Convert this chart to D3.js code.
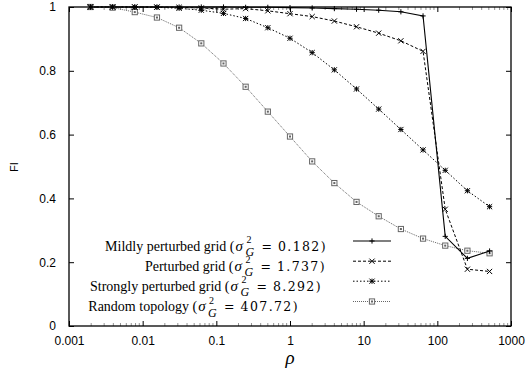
<!DOCTYPE html>
<html>
<head>
<meta charset="utf-8">
<script src="https://cdn.jsdelivr.net/npm/d3@7"></script>
<style>
    body { margin: 0; background: #fff; }
    .axis text { font-family: "Liberation Sans", Arial, sans-serif; font-size: 12px; fill: #000; }
    .legend text { font-family: "Liberation Serif", "Times New Roman", serif; font-size: 14px; fill: #000; }
</style>
</head>
<body>
<div id="chart"></div>
<script>
// rho values (2^-9 ... 2^9)
let rhoValues = [0.001953125, 0.00390625, 0.0078125, 0.015625, 0.03125, 0.0625, 0.125, 0.25, 0.5,
    1, 2, 4, 8, 16, 32, 64, 128, 256, 512];

let mildlyValues = [1.0, 1.0, 1.0, 1.0, 1.0, 1.0, 1.0, 0.999, 0.999,
    0.998, 0.997, 0.995, 0.993, 0.99, 0.985, 0.972, 0.281, 0.212, 0.235];
let perturbedValues = [1.0, 1.0, 1.0, 1.0, 0.999, 0.997, 0.993, 0.995, 0.988,
    0.979, 0.97, 0.956, 0.938, 0.918, 0.894, 0.861, 0.366, 0.178, 0.171];
let stronglyValues = [1.0, 1.0, 1.0, 0.999, 0.996, 0.99, 0.98, 0.964, 0.935,
    0.902, 0.857, 0.803, 0.743, 0.68, 0.616, 0.552, 0.488, 0.424, 0.374];
let randomValues = [1.0, 0.998, 0.984, 0.967, 0.935, 0.886, 0.823, 0.75, 0.672,
    0.594, 0.516, 0.448, 0.389, 0.344, 0.304, 0.274, 0.252, 0.236, 0.228];

let seriesNames = ["Mildly perturbed grid (", "Perturbed grid (", "Strongly perturbed grid (", "Random topology ("];
let sigmaLabels = ["0.182)", "1.737)", "8.292)", "407.72)"];

let xTickValues = [0.001, 0.01, 0.1, 1, 10, 100, 1000];
let xTickLabels = ["0.001", "0.01", "0.1", "1", "10", "100", "1000"];
let yTickValues = [0, 0.2, 0.4, 0.6, 0.8, 1];
let yTickLabels = ["0", "0.2", "0.4", "0.6", "0.8", "1"];

let totalWidth = 527, totalHeight = 377;
let margin = {top: 7, right: 16, bottom: 51, left: 69};
let width = totalWidth - margin.left - margin.right;
let height = totalHeight - margin.top - margin.bottom;

let svg = d3.select("#chart").append("svg")
    .attr("width", totalWidth)
    .attr("height", totalHeight);

let g = svg.append("g")
    .attr("transform", "translate(" + margin.left + "," + margin.top + ")");

// scales
let x = d3.scaleLog().domain([0.001, 1000]).range([0, width]);
let y = d3.scaleLinear().domain([0, 1]).range([height, 0]);

// series styles (line dash + marker type)
let styles = [
    {dash: null, color: "#000", width: 1.1, marker: "plus"},
    {dash: "3,2", color: "#000", width: 1, marker: "cross"},
    {dash: "1.5,2", color: "#000", width: 1, marker: "star"},
    {dash: "1,1", color: "#666", width: 1, marker: "square"}
];

let series = [mildlyValues, perturbedValues, stronglyValues, randomValues].map((vals, i) => {
    return {name: seriesNames[i], sigma: sigmaLabels[i], style: styles[i],
        points: rhoValues.map((r, j) => ({rho: r, fi: vals[j]}))};
});

// minor log ticks
let minorTicks = [];
for (let e = -3; e < 3; e++) {
    for (let m = 2; m <= 9; m++) minorTicks.push(m * Math.pow(10, e));
}

// x axis bottom + top (ticks inward)
let xAxisBottom = d3.axisBottom(x).tickValues(xTickValues)
    .tickFormat((d, i) => xTickLabels[i]).tickSize(-5).tickPadding(10);
g.append("g").attr("class", "x-axis axis")
    .attr("transform", "translate(0," + height + ")")
    .call(xAxisBottom);

g.append("g").attr("class", "x-axis-top axis")
    .call(d3.axisTop(x).tickValues(xTickValues).tickFormat("").tickSize(-5));

let minorG = g.append("g").attr("class", "minor");
minorG.selectAll(".mb").data(minorTicks).enter().append("line")
    .attr("x1", d => x(d)).attr("x2", d => x(d))
    .attr("y1", height).attr("y2", height - 3)
    .attr("stroke", "#777").attr("stroke-width", 0.8);
minorG.selectAll(".mt").data(minorTicks).enter().append("line")
    .attr("x1", d => x(d)).attr("x2", d => x(d))
    .attr("y1", 0).attr("y2", 3)
    .attr("stroke", "#777").attr("stroke-width", 0.8);

// y axis left + right
g.append("g").attr("class", "y-axis axis")
    .call(d3.axisLeft(y).tickValues(yTickValues)
        .tickFormat((d, i) => yTickLabels[i]).tickSize(-5).tickPadding(13));
g.append("g").attr("class", "y-axis-right axis")
    .attr("transform", "translate(" + width + ",0)")
    .call(d3.axisRight(y).tickValues(yTickValues).tickFormat("").tickSize(-5));

g.selectAll(".axis .domain").remove();
g.selectAll(".axis line").attr("stroke", "#000").attr("stroke-width", 1);

// frame
g.append("rect")
    .attr("width", width).attr("height", height)
    .attr("fill", "none").attr("stroke", "#000").attr("stroke-width", 1.3);

// axis titles
svg.append("text")
    .attr("transform", "translate(18," + (margin.top + 160) + ") rotate(-90)")
    .attr("text-anchor", "middle")
    .style("font-family", "Liberation Sans, Arial, sans-serif")
    .style("font-size", "11px")
    .text("FI");

svg.append("text")
    .attr("x", margin.left + width / 2)
    .attr("y", 364)
    .attr("text-anchor", "middle")
    .style("font-family", "Liberation Serif, serif")
    .style("font-style", "italic")
    .style("font-size", "19px")
    .text("ρ");

// marker drawing
function drawMarker(sel, type, color) {
    let s = 2.6;
    if (type === "plus") {
        sel.append("path").attr("d", `M${-s},0H${s}M0,${-s}V${s}`);
    } else if (type === "cross") {
        sel.append("path").attr("d", `M${-s},${-s}L${s},${s}M${-s},${s}L${s},${-s}`);
    } else if (type === "star") {
        sel.append("path").attr("d", `M${-s},0H${s}M0,${-s}V${s}M${-s},${-s}L${s},${s}M${-s},${s}L${s},${-s}`);
    } else {
        sel.append("rect").attr("x", -s).attr("y", -s).attr("width", 2 * s).attr("height", 2 * s)
            .attr("fill", "#fff");
        sel.append("rect").attr("x", -0.5).attr("y", -0.5).attr("width", 1).attr("height", 1)
            .attr("fill", color).attr("stroke", "none");
    }
    sel.selectAll("path, rect").attr("stroke", color).attr("stroke-width", 1).attr("fill", function () {
        return d3.select(this).attr("fill") || "none";
    });
}

let line = d3.line()
    .x(d => x(d.rho))
    .y(d => y(d.fi));

// draw in reverse so the solid line sits on top
series.slice().reverse().forEach(s => {
    g.append("path")
        .datum(s.points)
        .attr("class", "line")
        .attr("fill", "none")
        .attr("stroke", s.style.color)
        .attr("stroke-width", s.style.width)
        .attr("stroke-dasharray", s.style.dash)
        .attr("d", line);

    g.selectAll(null).data(s.points).enter().append("g")
        .attr("transform", d => "translate(" + x(d.rho) + "," + y(d.fi) + ")")
        .each(function () { drawMarker(d3.select(this), s.style.marker, s.style.color); });
});

// legend: "name (σ²_G = value)" built piece by piece, right aligned
let legendRight = [327, 326, 322, 299];
let legendBase = [250.5, 270.7, 290.7, 311];
let legend = svg.append("g").attr("class", "legend");

series.forEach((s, i) => {
    let row = legend.append("g");
    let t1 = row.append("text").attr("x", 0).attr("y", 0).text(s.name);
    let w = t1.node().getComputedTextLength();
    let sig = row.append("text").attr("x", w + 1).attr("y", 0)
        .style("font-style", "italic").style("font-size", "15px").text("σ");
    w += 1 + sig.node().getComputedTextLength() + 2.5;
    row.append("text").attr("x", w + 1).attr("y", -7.5).style("font-size", "10px").text("2");
    row.append("text").attr("x", w).attr("y", 5.5).style("font-size", "12px")
        .style("font-style", "italic").text("G");
    w += 16;
    let eq = row.append("text").attr("x", w).attr("y", 0)
        .style("font-family", "DejaVu Serif, serif").style("font-size", "12.5px").text("=");
    w += eq.node().getComputedTextLength() + 6;
    let t3 = row.append("text").attr("x", w).attr("y", 0)
        .style("font-family", "DejaVu Serif, serif").style("font-size", "12.5px")
        .style("letter-spacing", "1.4px")
        .text(s.sigma);
    let total = w + t3.node().getComputedTextLength();
    row.attr("transform", "translate(" + (legendRight[i] - total) + "," + legendBase[i] + ")");

    let ly = legendBase[i] - 9.5;
    legend.append("line")
        .attr("x1", 353).attr("x2", 391).attr("y1", ly).attr("y2", ly)
        .attr("stroke", s.style.color).attr("stroke-width", s.style.width)
        .attr("stroke-dasharray", s.style.dash);
    legend.append("g").attr("transform", "translate(372," + ly + ")")
        .each(function () { drawMarker(d3.select(this), s.style.marker, s.style.color); });
});
</script>
</body>
</html>
